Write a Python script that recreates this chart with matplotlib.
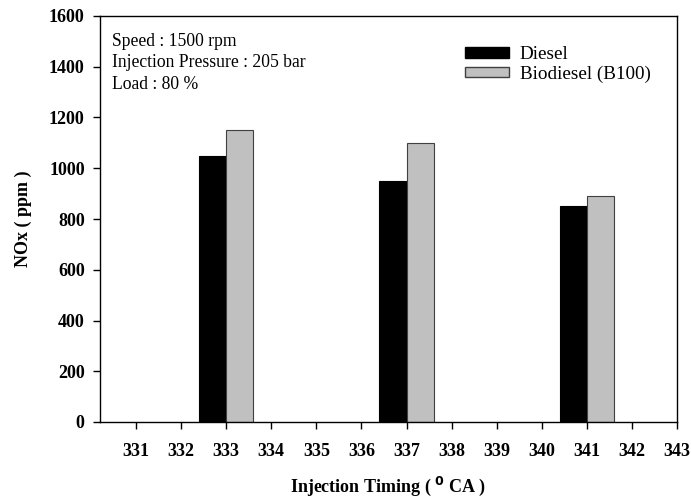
import matplotlib.pyplot as plt
import matplotlib.patches as mpatches

plt.rcParams['font.family'] = ['Liberation Serif', 'DejaVu Serif']

timing = [331, 332, 333, 334, 335, 336, 337, 338, 339, 340, 341, 342, 343]
bar_timing = [333, 337, 341]
diesel = [1050, 950, 850]
biodiesel = [1150, 1100, 890]
yticks = [0, 200, 400, 600, 800, 1000, 1200, 1400, 1600]

fig = plt.figure(figsize=(6.91, 5.0), dpi=100)
ax = fig.add_axes([0.1447, 0.156, 0.835, 0.812])

w = 0.6
ax.bar(bar_timing, diesel, width=-w, align='edge', color='black', edgecolor='black', linewidth=0.8)
ax.bar(bar_timing, biodiesel, width=w, align='edge', color='#c0c0c0', edgecolor='#404040', linewidth=0.8)

ax.set_xlim(330.2, 343)
ax.set_ylim(0, 1600)
ax.set_xticks(timing)
ax.set_yticks(yticks)
ax.tick_params(direction='out', length=5, width=1, labelsize=13, pad=6)
for lbl in ax.get_xticklabels() + ax.get_yticklabels():
    lbl.set_fontweight('bold')
ax.tick_params(axis='x', pad=10)
for s in ax.spines.values():
    s.set_linewidth(1)

ax.set_xlabel(r'Injection Timing ( $\mathbf{^{0}}$ CA )', fontsize=13, fontweight='bold', labelpad=11)
ax.set_ylabel('NOx ( ppm )', fontsize=13, fontweight='bold', labelpad=12)

ax.text(0.021, 0.958, 'Speed : 1500 rpm\nInjection Pressure : 205 bar\nLoad : 80 %',
        transform=ax.transAxes, fontsize=12.7, va='top', ha='left', linespacing=1.34)

handles = [mpatches.Patch(facecolor='black', edgecolor='black', label='Diesel'),
           mpatches.Patch(facecolor='#c0c0c0', edgecolor='#404040', label='Biodiesel (B100)')]
ax.legend(handles=handles, loc='upper left', bbox_to_anchor=(0.6326, 0.925), frameon=False,
          fontsize=13.8, handlelength=2.3, handleheight=0.46, handletextpad=0.55,
          labelspacing=0.12, borderpad=0, borderaxespad=0)

fig.savefig('out.png', dpi=100)
